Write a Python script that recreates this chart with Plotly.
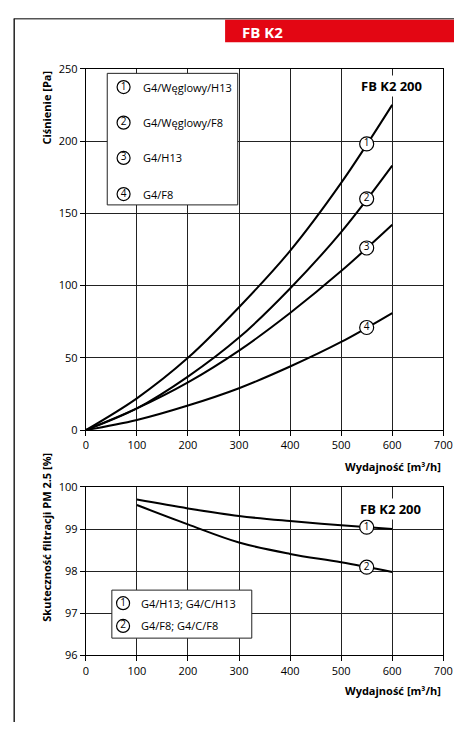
import numpy as np
import plotly.graph_objects as go

# ---- data ----
flow = [0, 100, 200, 300, 400, 500, 600]
p_g4_wegl_h13 = [0, 22, 50, 85, 124, 171, 225]
p_g4_wegl_f8 = [0, 15, 37, 64, 98, 137, 183]
p_g4_h13 = [0, 15, 33, 55, 81, 110, 142]
p_g4_f8 = [0, 7, 17, 29, 44, 61, 81]
top_series = [p_g4_wegl_h13, p_g4_wegl_f8, p_g4_h13, p_g4_f8]
top_labels = ["1", "2", "3", "4"]
top_legend = ["G4/Węglowy/H13", "G4/Węglowy/F8", "G4/H13", "G4/F8"]

flow_b = [100, 200, 300, 400, 500, 600]
eff_h13 = [99.70, 99.49, 99.31, 99.19, 99.09, 99.00]
eff_f8 = [99.57, 99.11, 98.68, 98.41, 98.21, 97.98]
bot_series = [eff_h13, eff_f8]
bot_labels = ["1", "2"]
bot_legend = ["G4/H13; G4/C/H13", "G4/F8; G4/C/F8"]

label_flow = 550
x_ticks = [0, 100, 200, 300, 400, 500, 600, 700]
y_ticks_top = [0, 50, 100, 150, 200, 250]
y_ticks_bot = [96, 97, 98, 99, 100]

W, H = 463, 729
FONT = "Open Sans"
px = lambda v: v / W
py = lambda v: 1 - v / H

fig = go.Figure()

# top curves
for s in top_series:
    fig.add_trace(go.Scatter(x=flow, y=s, mode="lines", line=dict(color="black", width=2, shape="spline"),
                             xaxis="x", yaxis="y", showlegend=False, hoverinfo="skip"))
fig.add_trace(go.Scatter(
    x=[label_flow] * len(top_series), y=[float(np.interp(label_flow, flow, s)) for s in top_series],
    mode="markers+text", text=top_labels, textposition="middle center",
    textfont=dict(size=10, color="black", family=FONT),
    marker=dict(size=14, color="white", line=dict(color="black", width=1.2)),
    xaxis="x", yaxis="y", showlegend=False, hoverinfo="skip"))

# bottom curves
for s in bot_series:
    fig.add_trace(go.Scatter(x=flow_b, y=s, mode="lines", line=dict(color="black", width=2, shape="spline"),
                             xaxis="x2", yaxis="y2", showlegend=False, hoverinfo="skip"))
fig.add_trace(go.Scatter(
    x=[label_flow] * len(bot_series), y=[float(np.interp(label_flow, flow_b, s)) for s in bot_series],
    mode="markers+text", text=bot_labels, textposition="middle center",
    textfont=dict(size=10, color="black", family=FONT),
    marker=dict(size=14, color="white", line=dict(color="black", width=1.2)),
    xaxis="x2", yaxis="y2", showlegend=False, hoverinfo="skip"))

# legend markers
leg_top_y = [237.3, 212.7, 188.3, 163.3]
fig.add_trace(go.Scatter(
    x=[74] * 4, y=leg_top_y, mode="markers+text", text=top_labels, textposition="middle center",
    textfont=dict(size=10, color="black", family=FONT),
    marker=dict(size=13, color="white", line=dict(color="black", width=1.2)),
    xaxis="x", yaxis="y", showlegend=False, hoverinfo="skip"))
leg_bot_y = [97.24, 96.70]
fig.add_trace(go.Scatter(
    x=[73] * 2, y=leg_bot_y, mode="markers+text", text=bot_labels, textposition="middle center",
    textfont=dict(size=10, color="black", family=FONT),
    marker=dict(size=13, color="white", line=dict(color="black", width=1.2)),
    xaxis="x2", yaxis="y2", showlegend=False, hoverinfo="skip"))

axis_common = dict(showline=True, mirror=True, linecolor="black", linewidth=1,
                   showgrid=True, gridcolor="#222", gridwidth=1, zeroline=False,
                   ticks="outside", ticklen=5, tickcolor="black",
                   tickfont=dict(size=11, color="black", family=FONT))

fig.update_layout(
    width=W, height=H, margin=dict(l=0, r=0, t=0, b=0), autosize=False,
    paper_bgcolor="white", plot_bgcolor="white",
    xaxis=dict(domain=[px(85), px(452)], range=[0, 700], tickvals=x_ticks, anchor="y", **axis_common),
    yaxis=dict(domain=[py(431), py(62)], range=[0, 250], tickvals=y_ticks_top, anchor="x", **axis_common),
    xaxis2=dict(domain=[px(85), px(452)], range=[0, 700], tickvals=x_ticks, anchor="y2", **axis_common),
    yaxis2=dict(domain=[py(661), py(489)], range=[96, 100], tickvals=y_ticks_bot, anchor="x2", **axis_common),
)

shapes = [
    # page frame
    dict(type="line", xref="paper", yref="paper", x0=px(11), x1=1, y0=py(11), y1=py(11),
         line=dict(color="#555", width=1.5)),
    dict(type="line", xref="paper", yref="paper", x0=px(11.5), x1=px(11.5), y0=py(11), y1=0,
         line=dict(color="#222", width=1.5)),
    # red header
    dict(type="rect", xref="paper", yref="paper", x0=px(228), x1=1, y0=py(35), y1=py(12),
         fillcolor="#e30613", line=dict(width=0)),
    # legend boxes
    dict(type="rect", xref="x", yref="y", x0=42, x1=297.5, y0=155.8, y1=246.8,
         fillcolor="white", line=dict(color="#222", width=1), layer="between"),
    dict(type="rect", xref="x2", yref="y2", x0=51, x1=325, y0=96.41, y1=97.55,
         fillcolor="white", line=dict(color="#222", width=1), layer="between"),
]
fig.update_layout(shapes=shapes)

ann = [
    dict(text="<b>FB K2</b>", xref="paper", yref="paper", x=px(243), y=py(24), xanchor="left", yanchor="middle",
         showarrow=False, font=dict(size=15, color="white", family=FONT)),
    dict(text="<b>FB K2 200</b>", xref="x", yref="y", x=599, y=237.8, showarrow=False,
         font=dict(size=13, color="black", family=FONT), bgcolor="white"),
    dict(text="<b>FB K2 200</b>", xref="x2", yref="y2", x=597, y=99.47, showarrow=False,
         font=dict(size=13, color="black", family=FONT), bgcolor="white"),
    dict(text="<b>Ciśnienie [Pa]</b>", xref="paper", yref="paper", x=px(45), y=py(62), textangle=-90,
         xanchor="center", yanchor="top", showarrow=False, font=dict(size=11, color="black", family=FONT)),
    dict(text="<b>Skuteczność filtracji PM 2.5 [%]</b>", xref="paper", yref="paper", x=px(45), y=py(540),
         textangle=-90, xanchor="center", yanchor="middle", showarrow=False,
         font=dict(size=11, color="black", family=FONT)),
    dict(text="<b>Wydajność [m³/h]</b>", xref="paper", yref="paper", x=px(452), y=py(468),
         xanchor="right", yanchor="middle", showarrow=False, font=dict(size=11, color="black", family=FONT)),
    dict(text="<b>Wydajność [m³/h]</b>", xref="paper", yref="paper", x=px(452), y=py(697),
         xanchor="right", yanchor="middle", showarrow=False, font=dict(size=11, color="black", family=FONT)),
]
for t, yv in zip(top_legend, leg_top_y):
    ann.append(dict(text=t, xref="x", yref="y", x=109, y=yv, xanchor="left", yanchor="middle",
                    showarrow=False, font=dict(size=11, color="black", family=FONT)))
for t, yv in zip(bot_legend, leg_bot_y):
    ann.append(dict(text=t, xref="x2", yref="y2", x=105, y=yv, xanchor="left", yanchor="middle",
                    showarrow=False, font=dict(size=11, color="black", family=FONT)))
fig.update_layout(annotations=ann)

post = (
    "document.documentElement.style.margin='0';"
    "document.documentElement.style.overflow='hidden';"
    "document.body.style.margin='0';"
    "document.body.style.overflow='hidden';"
    "var gd=document.getElementById('{plot_id}');"
    "gd.style.position='fixed';gd.style.top='0px';gd.style.left='0px';"
)
fig.write_html("out.html", config={"displayModeBar": False, "staticPlot": True}, post_script=post)
